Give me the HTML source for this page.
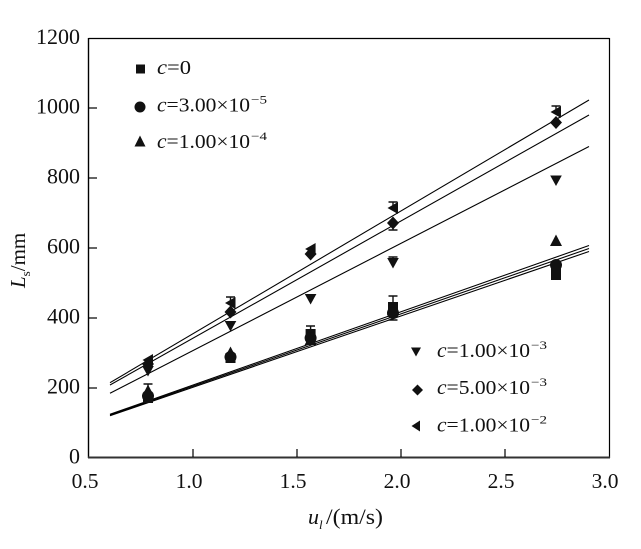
<!DOCTYPE html>
<html><head><meta charset="utf-8"><style>
html,body{margin:0;padding:0;background:#fff;}
svg{display:block;}
text{font-family:"Liberation Serif","Times New Roman",serif;fill:#111;}
</style></head><body>
<svg width="641" height="549" viewBox="0 0 641 549" xmlns="http://www.w3.org/2000/svg">
<rect x="0" y="0" width="641" height="549" fill="#fff"/>
<!-- frame -->
<line x1="88.5" y1="38.5" x2="609.5" y2="38.5" stroke="#000" stroke-width="1.2"/>
<line x1="88.5" y1="38" x2="88.5" y2="458" stroke="#000" stroke-width="1.4"/>
<line x1="609.5" y1="38" x2="609.5" y2="458" stroke="#000" stroke-width="1.2"/>
<line x1="88" y1="457.5" x2="610" y2="457.5" stroke="#333" stroke-width="2"/>
<!-- x ticks -->
<g stroke="#000" stroke-width="1.2">
<line x1="193" y1="457" x2="193" y2="449"/>
<line x1="297" y1="457" x2="297" y2="449"/>
<line x1="401" y1="457" x2="401" y2="449"/>
<line x1="505" y1="457" x2="505" y2="449"/>
<!-- y ticks -->
<line x1="89" y1="388" x2="97" y2="388"/>
<line x1="89" y1="318" x2="97" y2="318"/>
<line x1="89" y1="248" x2="97" y2="248"/>
<line x1="89" y1="178" x2="97" y2="178"/>
<line x1="89" y1="108" x2="97" y2="108"/>
</g>
<!-- y tick labels -->
<g font-size="22" text-anchor="end">
<text x="80" y="463.5">0</text>
<text x="80" y="393.5">200</text>
<text x="80" y="323.5">400</text>
<text x="80" y="253.5">600</text>
<text x="80" y="183.5">800</text>
<text x="80" y="113.5">1000</text>
<text x="80" y="44">1200</text>
</g>
<!-- x tick labels -->
<g font-size="21.5" text-anchor="middle">
<text x="85" y="488">0.5</text>
<text x="189" y="488">1.0</text>
<text x="293" y="488">1.5</text>
<text x="397" y="488">2.0</text>
<text x="501" y="488">2.5</text>
<text x="605" y="488">3.0</text>
</g>
<!-- axis titles -->
<text x="308" y="524" font-size="22"><tspan font-style="italic">u</tspan><tspan font-style="italic" font-size="13" dy="5">l</tspan></text>
<text x="326" y="524" font-size="22" textLength="57" lengthAdjust="spacingAndGlyphs">/(m/s)</text>
<text transform="translate(25,288) rotate(-90)" font-size="21"><tspan font-style="italic">L</tspan><tspan font-size="13" dy="5">s</tspan><tspan dy="-5">/mm</tspan></text>

<!-- fit lines -->
<g stroke="#000" stroke-width="1.1" fill="none">
<line x1="110" y1="382.7" x2="589" y2="100"/>
<line x1="110" y1="385" x2="589" y2="115"/>
<line x1="110" y1="393.3" x2="589" y2="146.5"/>
<line x1="110" y1="414.3" x2="589" y2="245.5"/>
<line x1="110" y1="415" x2="589" y2="248.5"/>
<line x1="110" y1="415.7" x2="589" y2="251.5"/>
</g>

<defs>
<rect id="sq" x="-5" y="-5" width="10" height="10"/>
<circle id="ci" cx="0" cy="0" r="6"/>
<polygon id="tu" points="0,-6.5 6,5 -6,5"/>
<polygon id="td" points="-5.8,-5 5.8,-5 0,5.5"/>
<polygon id="di" points="0,-6.5 6,0 0,6.5 -6,0"/>
<polygon id="tl" points="-5.5,0 5,-6 5,6"/>
</defs>

<!-- error bars -->
<g stroke="#111" stroke-width="1.4" fill="none">
<path d="M230.5 297 V303 M226 297 H235"/>
<path d="M310.6 326 V334 M306 326 H315"/>
<path d="M393 202 V208 M388.5 202 H397.5"/>
<path d="M393 223 V230 M388.5 230 H397.5"/>
<path d="M393 257 V263 M388.5 257 H397.5"/>
<path d="M393 296 V320 M388.5 296 H397.5 M388.5 320 H397.5"/>
<path d="M556 106 V112 M551.5 106 H560.5"/>
<path d="M148 384 V392 M143.5 384 H152.5"/>
</g>

<!-- data markers -->
<g fill="#111">
<!-- col1 -->
<use href="#tl" x="148" y="360"/>
<use href="#di" x="148" y="364"/>
<use href="#td" x="148" y="371"/>
<use href="#tu" x="148" y="391"/>
<use href="#ci" x="148" y="396"/>
<use href="#sq" x="148" y="398"/>
<!-- col2 -->
<use href="#tl" x="230.5" y="303"/>
<use href="#di" x="230.5" y="312"/>
<use href="#td" x="230.5" y="326"/>
<use href="#tu" x="230.5" y="353"/>
<use href="#ci" x="230.5" y="357"/>
<use href="#sq" x="230.5" y="358"/>
<!-- col3 -->
<use href="#tl" x="310.6" y="249"/>
<use href="#di" x="310.6" y="254"/>
<use href="#td" x="310.6" y="299"/>
<use href="#sq" x="310.6" y="334"/>
<use href="#ci" x="310.6" y="338"/>
<use href="#tu" x="310.6" y="340"/>
<!-- col4 -->
<use href="#tl" x="393" y="208"/>
<use href="#di" x="393" y="223"/>
<use href="#td" x="393" y="263"/>
<use href="#sq" x="393" y="307"/>
<use href="#tu" x="393" y="310"/>
<use href="#ci" x="393" y="313"/>
<!-- col5 -->
<use href="#tl" x="556" y="112"/>
<use href="#di" x="556" y="122.5"/>
<use href="#td" x="556" y="180.5"/>
<use href="#tu" x="556" y="241"/>
<use href="#ci" x="556" y="265"/>
<rect x="551" y="264" width="10" height="16"/>
</g>

<!-- legend markers -->
<g fill="#111">
<rect x="136" y="64.5" width="9" height="9"/>
<circle cx="140" cy="107" r="5.5"/>
<polygon points="140,135.5 145.5,146.5 134.5,146.5"/>
<polygon points="411,347.5 421,347.5 416,356.5"/>
<polygon points="417.5,384.5 423,390 417.5,395.5 412,390"/>
<polygon points="411.5,426 420,420.5 420,431.5"/>
</g>
<g font-size="20">
<text x="157" y="74" textLength="34" lengthAdjust="spacingAndGlyphs"><tspan font-style="italic">c</tspan>=0</text>
<text x="157" y="111.5" textLength="93" lengthAdjust="spacingAndGlyphs"><tspan font-style="italic">c</tspan>=3.00×10</text>
<text x="157" y="148" textLength="93" lengthAdjust="spacingAndGlyphs"><tspan font-style="italic">c</tspan>=1.00×10</text>
<text x="437" y="357" textLength="93" lengthAdjust="spacingAndGlyphs"><tspan font-style="italic">c</tspan>=1.00×10</text>
<text x="437" y="394" textLength="93" lengthAdjust="spacingAndGlyphs"><tspan font-style="italic">c</tspan>=5.00×10</text>
<text x="437" y="431.5" textLength="93" lengthAdjust="spacingAndGlyphs"><tspan font-style="italic">c</tspan>=1.00×10</text>
</g>
<g font-size="12">
<text x="251" y="103.5" textLength="16" lengthAdjust="spacingAndGlyphs">−5</text>
<text x="251" y="140" textLength="16" lengthAdjust="spacingAndGlyphs">−4</text>
<text x="531" y="349" textLength="16" lengthAdjust="spacingAndGlyphs">−3</text>
<text x="531" y="386" textLength="16" lengthAdjust="spacingAndGlyphs">−3</text>
<text x="531" y="423.5" textLength="16" lengthAdjust="spacingAndGlyphs">−2</text>
</g>
</svg>
</body></html>
